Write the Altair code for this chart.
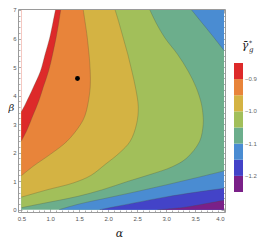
import altair as alt
import pandas as pd

# ---------------- data ----------------
alpha_lim = [0.5, 4.0]
beta_lim = [0.0, 7.0]

dot_alpha = [1.47]
dot_beta = [4.6]

# contour levels (legend thresholds) and band colours, low -> high
thresholds = [-1.2, -1.15, -1.1, -1.05, -1.0, -0.95, -0.9]
band_colors = ["#7a2088", "#4343c8", "#4a8cd2", "#6cae8c",
               "#a2bf5a", "#d4b343", "#e8843a", "#dd2a2a"]
# representative value inside each band
v_purple, v_dblue, v_blue, v_teal = -1.225, -1.175, -1.125, -1.075
v_green, v_ochre, v_orange, v_red = -1.025, -0.975, -0.925, -0.875

# C-shaped boundaries: alpha as a function of beta
b1_beta = [3.43, 3.7, 4.3, 4.85, 5.44, 6.02, 6.6, 7.0]            # white / red
b1_alpha = [0.5, 0.57, 0.71, 0.83, 0.91, 0.99, 1.05, 1.09]
b2_beta = [2.4, 2.8, 3.3, 3.8, 4.3, 4.85, 5.44, 6.02, 6.6, 7.0]    # red / orange
b2_alpha = [0.5, 0.6, 0.7, 0.8, 0.88, 0.97, 1.04, 1.10, 1.15, 1.18]
b3_beta = [1.19, 1.53, 1.94, 2.4, 2.98, 3.3, 3.7, 4.3, 4.85, 5.44, 6.02, 6.6, 7.0]   # orange / ochre
b3_alpha = [0.5, 0.71, 1.0, 1.29, 1.52, 1.6, 1.65, 1.69, 1.69, 1.67, 1.64, 1.6, 1.57]
b4_beta = [0.44, 0.7, 0.94, 1.2, 1.59, 2.0, 2.4, 3.0, 3.6, 4.3, 4.85, 5.44, 6.02, 6.6, 7.0]  # ochre / green
b4_alpha = [0.5, 0.95, 1.4, 1.7, 1.95, 2.2, 2.38, 2.49, 2.52, 2.47, 2.41, 2.34, 2.26, 2.18, 2.12]
b5_beta = [0.07, 0.2, 0.33, 0.47, 0.7, 1.0, 1.25, 1.5, 1.8, 2.4, 2.98, 3.26, 3.71, 4.28, 4.86, 5.44, 6.02, 6.5, 7.0]  # green / teal
b5_alpha = [0.5, 0.82, 1.15, 1.48, 1.9, 2.35, 2.75, 3.1, 3.35, 3.58, 3.64, 3.64, 3.61, 3.52, 3.38, 3.2, 2.98, 2.84, 2.72]
b6t_beta = [5.58, 6.1, 6.6, 7.0]                                   # teal / blue (upper right)
b6t_alpha = [4.0, 3.8, 3.6, 3.44]

# bottom boundaries: beta as a function of alpha
b6_alpha = [1.15, 1.5, 2.0, 2.5, 3.0, 3.5, 4.0]                    # teal / blue
b6_beta = [0.0, 0.2, 0.42, 0.64, 0.87, 1.11, 1.36]
b7_alpha = [1.85, 2.43, 3.0, 3.5, 4.0]                             # blue / dark blue
b7_beta = [0.0, 0.23, 0.45, 0.61, 0.75]
b8_alpha = [2.85, 3.3, 3.65, 4.0]                                  # dark blue / purple
b8_beta = [0.0, 0.08, 0.2, 0.33]

x_major = [0.5, 1.0, 1.5, 2.0, 2.5, 3.0, 3.5, 4.0]
x_minor = [0.6, 0.7, 0.8, 0.9, 1.1, 1.2, 1.3, 1.4, 1.6, 1.7, 1.8, 1.9, 2.1, 2.2, 2.3, 2.4,
           2.6, 2.7, 2.8, 2.9, 3.1, 3.2, 3.3, 3.4, 3.6, 3.7, 3.8, 3.9]
y_major = [0, 1, 2, 3, 4, 5, 6, 7]
y_minor = [0.2, 0.4, 0.6, 0.8, 1.2, 1.4, 1.6, 1.8, 2.2, 2.4, 2.6, 2.8, 3.2, 3.4, 3.6, 3.8,
           4.2, 4.4, 4.6, 4.8, 5.2, 5.4, 5.6, 5.8, 6.2, 6.4, 6.6, 6.8]

title_main = "γ\u0304"
title_sup = "*"
title_sub = "g"

# ---------------- scales ----------------
xs = alt.Scale(domain=[0.443, 4.017], nice=False, zero=False)
ys = alt.Scale(domain=[-0.08, 7.035], nice=False, zero=False)

legend = alt.Legend(
    title=None, orient="none", legendX=216, legendY=54, direction="vertical",
    type="gradient", gradientLength=129, gradientThickness=9, gradientStrokeWidth=0,
    labelFontSize=6, labelColor="#666666", labelOffset=2, labelFont="Liberation Sans",
    labelExpr="abs(datum.value*10 - round(datum.value*10)) < 0.001 ? format(datum.value, '.1f') : ''",
    padding=0, offset=0,
)
color = alt.Color("v:Q", scale=alt.Scale(type="threshold", domain=thresholds, range=band_colors),
                  legend=legend)


def hfill(beta, alpha, value, base):
    df = pd.DataFrame({"b": beta, "a": alpha})
    df["base"] = base
    df["v"] = value
    return alt.Chart(df).mark_area(orient="horizontal", interpolate="catmull-rom").encode(
        y=alt.Y("b:Q", scale=ys, axis=None),
        x=alt.X("a:Q", scale=xs, axis=None, stack=None),
        x2=alt.X2("base:Q"),
        color=color,
    )


def vfill(alpha, beta, value):
    df = pd.DataFrame({"a": alpha, "b": beta})
    df["base"] = beta_lim[0]
    df["v"] = value
    return alt.Chart(df).mark_area(orient="vertical", interpolate="catmull-rom").encode(
        x=alt.X("a:Q", scale=xs, axis=None),
        y=alt.Y("b:Q", scale=ys, axis=None, stack=None),
        y2=alt.Y2("base:Q"),
        color=color,
    )


def cline(xv, yv):
    df = pd.DataFrame({"a": xv, "b": yv, "i": list(range(len(xv)))})
    return alt.Chart(df).mark_line(interpolate="catmull-rom", strokeWidth=0.6,
                                   color="#4a4a36", opacity=0.45).encode(
        x=alt.X("a:Q", scale=xs, axis=None),
        y=alt.Y("b:Q", scale=ys, axis=None),
        order="i:Q",
    )


bg_df = pd.DataFrame({"a": [alpha_lim[0]], "a2": [alpha_lim[1]],
                      "b": [beta_lim[0]], "b2": [beta_lim[1]], "v": [v_teal]})
background = alt.Chart(bg_df).mark_rect().encode(
    x=alt.X("a:Q", scale=xs, axis=None), x2="a2:Q",
    y=alt.Y("b:Q", scale=ys, axis=None), y2="b2:Q",
    color=color,
)

white_df = pd.DataFrame({"b": b1_beta, "a": b1_alpha})
white_df["base"] = alpha_lim[0]
white = alt.Chart(white_df).mark_area(orient="horizontal", interpolate="catmull-rom",
                                      color="white").encode(
    y=alt.Y("b:Q", scale=ys, axis=None),
    x=alt.X("a:Q", scale=xs, axis=None, stack=None),
    x2=alt.X2("base:Q"),
)

fills = [
    background,
    hfill(b5_beta, b5_alpha, v_green, alpha_lim[0]),
    hfill(b4_beta, b4_alpha, v_ochre, alpha_lim[0]),
    hfill(b3_beta, b3_alpha, v_orange, alpha_lim[0]),
    hfill(b2_beta, b2_alpha, v_red, alpha_lim[0]),
    white,
    hfill(b6t_beta, b6t_alpha, v_blue, alpha_lim[1]),
    vfill(b6_alpha, b6_beta, v_blue),
    vfill(b7_alpha, b7_beta, v_dblue),
    vfill(b8_alpha, b8_beta, v_purple),
]
lines = [
    cline(b1_alpha, b1_beta), cline(b2_alpha, b2_beta), cline(b3_alpha, b3_beta),
    cline(b4_alpha, b4_beta), cline(b5_alpha, b5_beta), cline(b6t_alpha, b6t_beta),
    cline(b6_alpha, b6_beta), cline(b7_alpha, b7_beta), cline(b8_alpha, b8_beta),
]

dot_df = pd.DataFrame({"a": dot_alpha, "b": dot_beta})
dot = alt.Chart(dot_df).mark_circle(size=24, color="black", opacity=1).encode(
    x=alt.X("a:Q", scale=xs, axis=None),
    y=alt.Y("b:Q", scale=ys, axis=None),
)

tick_style = dict(domain=False, grid=False, tickColor="#999999", tickWidth=0.8,
                  labelFontSize=6, labelColor="#555555", labelFont="Liberation Sans")


def axis_layer(xaxis, yaxis):
    return alt.Chart(dot_df).mark_point(opacity=0).encode(
        x=alt.X("a:Q", scale=xs, axis=xaxis),
        y=alt.Y("b:Q", scale=ys, axis=yaxis),
    )


axes = [
    axis_layer(
        alt.Axis(orient="bottom", values=x_major, format=".1f", tickSize=4, offset=-4,
                 labelPadding=3, title="α", titleFont="DejaVu Serif", titleFontStyle="italic",
                 titleFontWeight="normal", titleFontSize=11, titleColor="#222222",
                 titleX=101, titleY=25, titleBaseline="middle", titleAlign="center",
                 **tick_style),
        alt.Axis(orient="left", values=y_major, format="d", tickSize=4, offset=-4,
                 labelPadding=2, title="β", titleFont="DejaVu Serif", titleFontStyle="italic",
                 titleFontWeight="normal", titleFontSize=10, titleColor="#222222",
                 titleAngle=0, titleX=-11, titleY=98, titleBaseline="middle",
                 titleAlign="center", **tick_style),
    ),
    axis_layer(
        alt.Axis(orient="bottom", values=x_minor, tickSize=2, offset=-2, labels=False,
                 title=None, **tick_style),
        alt.Axis(orient="left", values=y_minor, tickSize=2, offset=-2, labels=False,
                 title=None, **tick_style),
    ),
    axis_layer(
        alt.Axis(orient="top", values=x_major, tickSize=4, offset=-4, labels=False,
                 title=None, **tick_style),
        alt.Axis(orient="right", values=y_major, tickSize=4, offset=-4, labels=False,
                 title=None, **tick_style),
    ),
    axis_layer(
        alt.Axis(orient="top", values=x_minor, tickSize=2, offset=-2, labels=False,
                 title=None, **tick_style),
        alt.Axis(orient="right", values=y_minor, tickSize=2, offset=-2, labels=False,
                 title=None, **tick_style),
    ),
]


def label_text(txt, x, y, size, style, align):
    return alt.Chart(pd.DataFrame({"t": [txt]})).mark_text(
        font="DejaVu Serif", fontStyle=style, fontSize=size, color="#222222",
        align=align, baseline="alphabetic",
    ).encode(text="t:N", x=alt.value(x), y=alt.value(y))


texts = [
    label_text(title_main, 227, 40, 11, "italic", "center"),
    label_text(title_sup, 231, 36, 6, "normal", "left"),
    label_text(title_sub, 231, 43, 7, "italic", "left"),
]

chart = alt.layer(*fills, *lines, dot, *axes, *texts).resolve_axis(
    x="independent", y="independent"
).properties(
    width=207, height=203,
    padding={"left": 10, "top": 1, "right": 33, "bottom": 30},
    autosize=alt.AutoSizeParams(type="none"),
).configure_view(stroke="#9a9a9a", strokeWidth=1)

chart.save("out.html", embed_options={"renderer": "svg", "actions": False})
